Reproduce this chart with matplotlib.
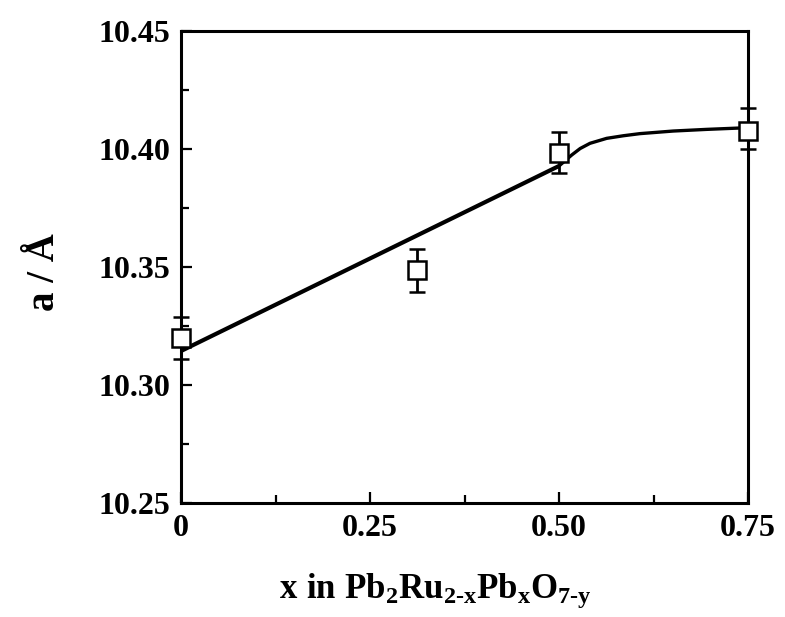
import numpy as np
import matplotlib
matplotlib.use("Agg")
import matplotlib.pyplot as plt
from matplotlib.ticker import MultipleLocator

# measured lattice parameter
x_pts = [0.0, 0.3125, 0.5, 0.75]
a_pts = [10.320, 10.3487, 10.3983, 10.4076]
a_err_lo = [0.0088, 0.0093, 0.0085, 0.0076]
a_err_hi = [0.0088, 0.0089, 0.0089, 0.0098]

# guide line (straight part, then the bend)
x_line = [0.0, 0.5, 0.517, 0.528, 0.541, 0.563, 0.585, 0.607, 0.651, 0.695, 0.733, 0.75]
a_line = [10.3144, 10.3928, 10.3975, 10.4002, 10.4024, 10.4045, 10.4056, 10.4065,
          10.4076, 10.4083, 10.4088, 10.409]

xticks = [0, 0.25, 0.50, 0.75]
xticklabels = ["0", "0.25", "0.50", "0.75"]
yticks = [10.25, 10.30, 10.35, 10.40, 10.45]

plt.rcParams["font.family"] = ["Liberation Serif", "DejaVu Serif"]
plt.rcParams["font.weight"] = "bold"
plt.rcParams["mathtext.fontset"] = "custom"
plt.rcParams["mathtext.rm"] = "Liberation Serif:bold"
plt.rcParams["mathtext.bf"] = "Liberation Serif:bold"
plt.rcParams["mathtext.it"] = "Liberation Serif:bold"

fig = plt.figure(figsize=(7.85, 6.17), dpi=100)
ax = fig.add_axes([0.2306, 0.1848, 0.7223, 0.765])

ax.plot(x_line[:2], a_line[:2], c='black', lw=3.0, zorder=2, clip_on=False,
        solid_capstyle='butt')
ax.plot(x_line[1:], a_line[1:], c='black', lw=2.4, zorder=2, clip_on=False)
eb = ax.errorbar(x_pts, a_pts, yerr=[a_err_lo, a_err_hi], fmt='s', ms=13.5,
                 mfc='white', mec='black', mew=1.8, ecolor='black',
                 elinewidth=2, capsize=6, capthick=2.8, zorder=3)
for art in eb.get_children():
    art.set_clip_on(False)

ax.set_xlim(0, 0.75)
ax.set_ylim(10.25, 10.45)
ax.set_xticks(xticks)
ax.set_xticklabels(xticklabels)
ax.set_yticks(yticks)
ax.set_yticklabels(["%.2f" % v for v in yticks])
ax.xaxis.set_minor_locator(MultipleLocator(0.125))
ax.yaxis.set_minor_locator(MultipleLocator(0.025))
ax.tick_params(which='both', direction='in', top=False, right=False,
               width=1.6, labelsize=23, pad=8)
ax.tick_params(which='major', length=8)
ax.tick_params(which='minor', length=6)
for s in ax.spines.values():
    s.set_linewidth(2.2)

ax.set_xlabel(r'$\mathbf{x\ in\ Pb_2Ru_{2\text{-}x}Pb_xO_{7\text{-}y}}$', fontsize=25)
ax.xaxis.set_label_coords(0.448, -0.145)
ax.set_ylabel('a / Å', fontsize=28, fontweight='bold')
ax.yaxis.set_label_coords(-0.208, 0.49)

fig.savefig("out.png", dpi=100)
